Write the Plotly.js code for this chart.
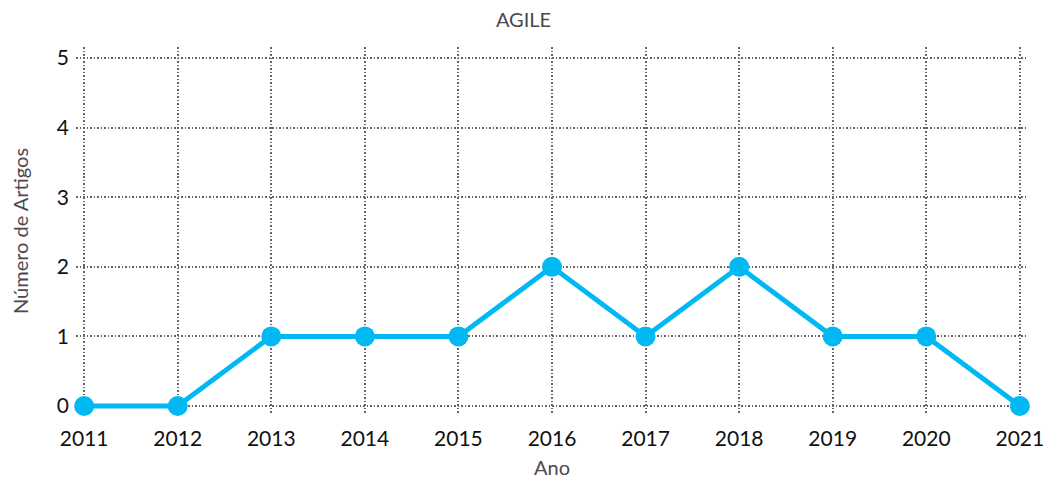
<!DOCTYPE html>
<html>
<head>
<meta charset="utf-8">
<script src="https://cdn.plot.ly/plotly-3.0.1.min.js"></script>
<style>html,body{margin:0;padding:0;background:#fff;}#chart{width:1047px;height:479px;}</style>
</head>
<body>
<div id="chart"></div>
<script>
const years = [2011, 2012, 2013, 2014, 2015, 2016, 2017, 2018, 2019, 2020, 2021];
const articles = [0, 0, 1, 1, 1, 2, 1, 2, 1, 1, 0];
const yTicks = [0, 1, 2, 3, 4, 5];

const trace = {
  x: years,
  y: articles,
  type: 'scatter',
  mode: 'lines+markers',
  line: {color: '#00b9f2', width: 5},
  marker: {color: '#00b9f2', size: 20},
  cliponaxis: false,
  hoverinfo: 'x+y'
};

const layout = {
  width: 1047,
  height: 479,
  margin: {l: 76, r: 19, t: 47, b: 64},
  paper_bgcolor: '#ffffff',
  plot_bgcolor: '#ffffff',
  font: {family: 'Lato, sans-serif', size: 20, color: '#111'},
  title: {text: 'AGILE', x: 0.5, xanchor: 'center', y: 0.958, yanchor: 'middle',
          font: {size: 20, color: '#4d4750'}},
  xaxis: {
    range: [2011 - 0.087, 2021 + 0.087],
    tickvals: years,
    ticktext: years.map(String),
    showgrid: true, gridcolor: '#666', griddash: '1.5px,2px', gridwidth: 1.5,
    zeroline: false, showline: false, ticks: '',
    ticklabelstandoff: 9,
    tickfont: {size: 21, color: '#111'},
    title: {text: 'Ano', font: {size: 20, color: '#4d4750'}, standoff: 12},
    fixedrange: true
  },
  yaxis: {
    range: [-0.13, 5.16],
    tickvals: yTicks,
    showgrid: true, gridcolor: '#666', griddash: '1.5px,2px', gridwidth: 1.5,
    zeroline: false, showline: false, ticks: '',
    ticklabelstandoff: 6,
    tickfont: {size: 21, color: '#111'},
    title: {text: 'Número de Artigos', font: {size: 20, color: '#4d4750'}, standoff: 22},
    fixedrange: true
  },
  showlegend: false
};

Plotly.newPlot('chart', [trace], layout, {displayModeBar: false});
</script>
</body>
</html>
